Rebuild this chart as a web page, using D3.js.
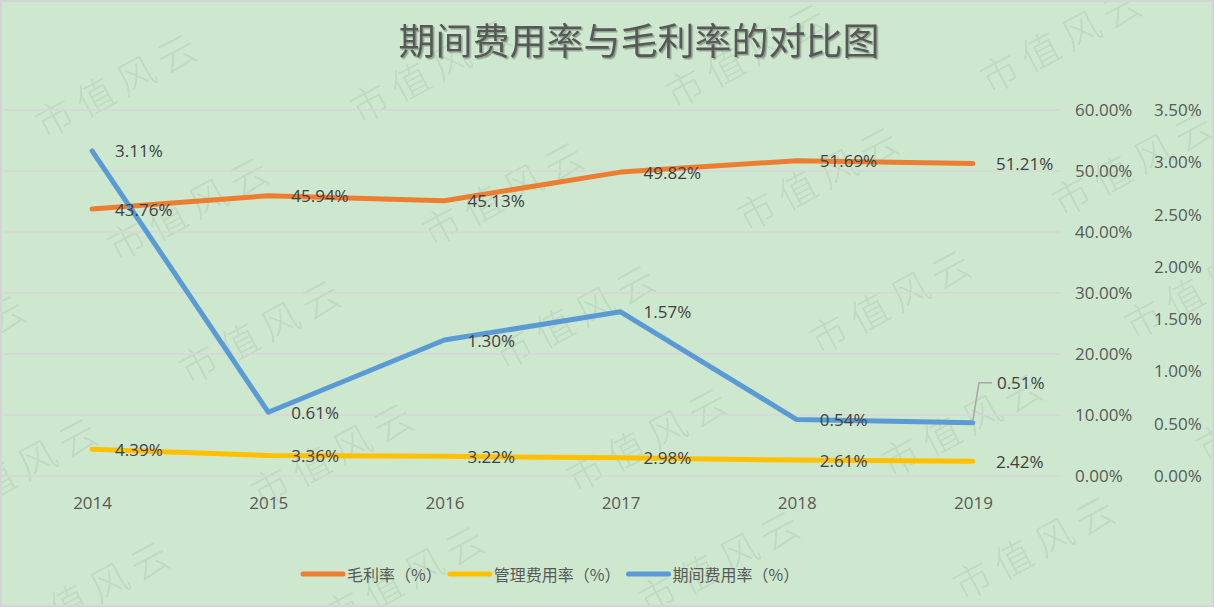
<!DOCTYPE html>
<html lang="zh">
<head>
  <meta charset="UTF-8">
  <title>期间费用率与毛利率的对比图</title>
  <script src="https://d3js.org/d3.v7.min.js"></script>
  <style>
    html, body { margin: 0; padding: 0; background: #ffffff; }
    svg { display: block; }
  </style>
</head>
<body>
<script>
  const width = 1215, height = 609;

  // data
  const years = ['2014', '2015', '2016', '2017', '2018', '2019'];
  const grossMargin = [0.4376, 0.4594, 0.4513, 0.4982, 0.5169, 0.5121];   // 毛利率
  const adminRate = [0.0439, 0.0336, 0.0322, 0.0298, 0.0261, 0.0242];     // 管理费用率
  const periodRate = [0.0311, 0.0061, 0.0130, 0.0157, 0.0054, 0.0051];    // 期间费用率
  const leftTicks = [0, 0.1, 0.2, 0.3, 0.4, 0.5, 0.6];
  const rightTicks = [0, 0.005, 0.01, 0.015, 0.02, 0.025, 0.03, 0.035];

  const series = [
    {name: '毛利率（%）', values: grossMargin, color: '#ed7d31', axis: 'left'},
    {name: '管理费用率（%）', values: adminRate, color: '#ffc000', axis: 'left'},
    {name: '期间费用率（%）', values: periodRate, color: '#5b9bd5', axis: 'right'}
  ];

  const textColor = '#595959';
  const numFont = '"Open Sans", "Noto Sans", sans-serif';
  const cjkFont = '"Noto Sans CJK SC", "Noto Sans", sans-serif';

  const svg = d3.select('body').append('svg')
    .attr('width', width).attr('height', height);

  const defs = svg.append('defs');
  defs.append('clipPath').attr('id', 'chartClip')
    .append('rect').attr('x', 2).attr('y', 2).attr('width', 1210).attr('height', 603);

  // chart background + border
  svg.append('rect')
    .attr('x', 1).attr('y', 1).attr('width', 1212).attr('height', 605)
    .attr('fill', '#cde8ce').attr('stroke', '#d4d4d4').attr('stroke-width', 2);

  // watermark tiles
  const wm = svg.append('g').attr('pointer-events', 'none').attr('clip-path', 'url(#chartClip)');
  for (let i = -2; i < 6; i++) {
    for (let j = -1; j < 6; j++) {
      const cx = 118 + i * 315 + j * 72;
      const cy = 82 - i * 15 + j * 123;
      if (cx < -100 || cx > 1320 || cy < -60 || cy > 680) continue;
      wm.append('text')
        .attr('transform', `translate(${cx},${cy}) rotate(-28)`)
        .attr('text-anchor', 'middle')
        .attr('dominant-baseline', 'central')
        .attr('font-family', cjkFont)
        .attr('font-size', 38)
        .attr('font-weight', 300)
        .attr('letter-spacing', 8)
        .attr('fill', '#9fb5a0')
        .attr('opacity', 0.28)
        .text('市值风云');
    }
  }

  // scales
  const x = d3.scalePoint().domain(years).range([4, 1061]).padding(0.5);
  const yLeft = d3.scaleLinear().domain([0, 0.6]).range([476, 110]);
  const yRight = d3.scaleLinear().domain([0, 0.035]).range([476, 110]);
  const fmt = d3.format('.2%');

  // gridlines
  svg.append('g').selectAll('line')
    .data(leftTicks)
    .join('line')
    .attr('x1', 4).attr('x2', 1061)
    .attr('y1', d => yLeft(d)).attr('y2', d => yLeft(d))
    .attr('stroke', '#dad5d9').attr('stroke-width', 1.5);

  // axes
  const leftAxis = svg.append('g')
    .attr('transform', 'translate(1075,0)')
    .call(d3.axisRight(yLeft).tickValues(leftTicks).tickFormat(fmt).tickSize(0).tickPadding(0));
  const rightAxis = svg.append('g')
    .attr('transform', 'translate(1154,0)')
    .call(d3.axisRight(yRight).tickValues(rightTicks).tickFormat(fmt).tickSize(0).tickPadding(0));
  const xAxis = svg.append('g')
    .attr('transform', 'translate(0,502)')
    .call(d3.axisBottom(x).tickSize(0).tickPadding(0));

  [leftAxis, rightAxis, xAxis].forEach(g => {
    g.select('.domain').remove();
    g.selectAll('text')
      .attr('font-family', numFont)
      .attr('font-size', 17)
      .attr('fill', textColor);
  });
  xAxis.selectAll('text').attr('dy', null).attr('dominant-baseline', 'central');

  // lines
  series.forEach(s => {
    const y = s.axis === 'left' ? yLeft : yRight;
    const line = d3.line()
      .x((d, i) => x(years[i]))
      .y(d => y(d));
    svg.append('path')
      .datum(s.values)
      .attr('d', line)
      .attr('fill', 'none')
      .attr('stroke', s.color)
      .attr('stroke-width', 5)
      .attr('stroke-linejoin', 'round')
      .attr('stroke-linecap', 'round');
  });

  // data labels (right of point); last blue label lifted with a leader line
  const labelNudge = {'期间费用率（%）-5': -40};
  series.forEach(s => {
    const y = s.axis === 'left' ? yLeft : yRight;
    s.values.forEach((v, i) => {
      const px = x(years[i]), py = y(v);
      const dy = labelNudge[`${s.name}-${i}`] || 0;
      if (dy) {
        svg.append('path')
          .attr('d', `M${px},${py - 2}L${px + 6},${py + dy}L${px + 19},${py + dy}`)
          .attr('fill', 'none')
          .attr('stroke', '#a6a6a6')
          .attr('stroke-width', 1.5);
      }
      svg.append('text')
        .attr('x', px + (dy ? 24 : 23))
        .attr('y', py + dy)
        .attr('dominant-baseline', 'central')
        .attr('font-family', numFont)
        .attr('font-size', 17)
        .attr('fill', '#404040')
        .text(fmt(v));
    });
  });

  // title
  const shadow = defs.append('filter').attr('id', 'shadow')
    .attr('x', '-5%').attr('y', '-20%').attr('width', '110%').attr('height', '140%');
  shadow.append('feDropShadow')
    .attr('dx', 1.5).attr('dy', 1.5).attr('stdDeviation', 0.6)
    .attr('flood-color', '#000').attr('flood-opacity', 0.3);

  svg.append('text')
    .attr('x', 639).attr('y', 39)
    .attr('text-anchor', 'middle')
    .attr('dominant-baseline', 'central')
    .attr('font-family', cjkFont)
    .attr('font-size', 37)
    .attr('fill', '#595959')
    .attr('filter', 'url(#shadow)')
    .text('期间费用率与毛利率的对比图');

  // legend
  const legend = svg.append('g').attr('transform', 'translate(303,574)');
  let lx = 0;
  series.forEach(s => {
    legend.append('line')
      .attr('x1', lx).attr('x2', lx + 40)
      .attr('y1', 0).attr('y2', 0)
      .attr('stroke', s.color).attr('stroke-width', 5)
      .attr('stroke-linecap', 'round');
    const t = legend.append('text')
      .attr('x', lx + 44).attr('y', 0)
      .attr('dominant-baseline', 'central')
      .attr('font-family', cjkFont)
      .attr('font-size', 16)
      .attr('fill', textColor)
      .text(s.name);
    lx += 44 + t.node().getComputedTextLength() + 8;
  });
</script>
</body>
</html>
